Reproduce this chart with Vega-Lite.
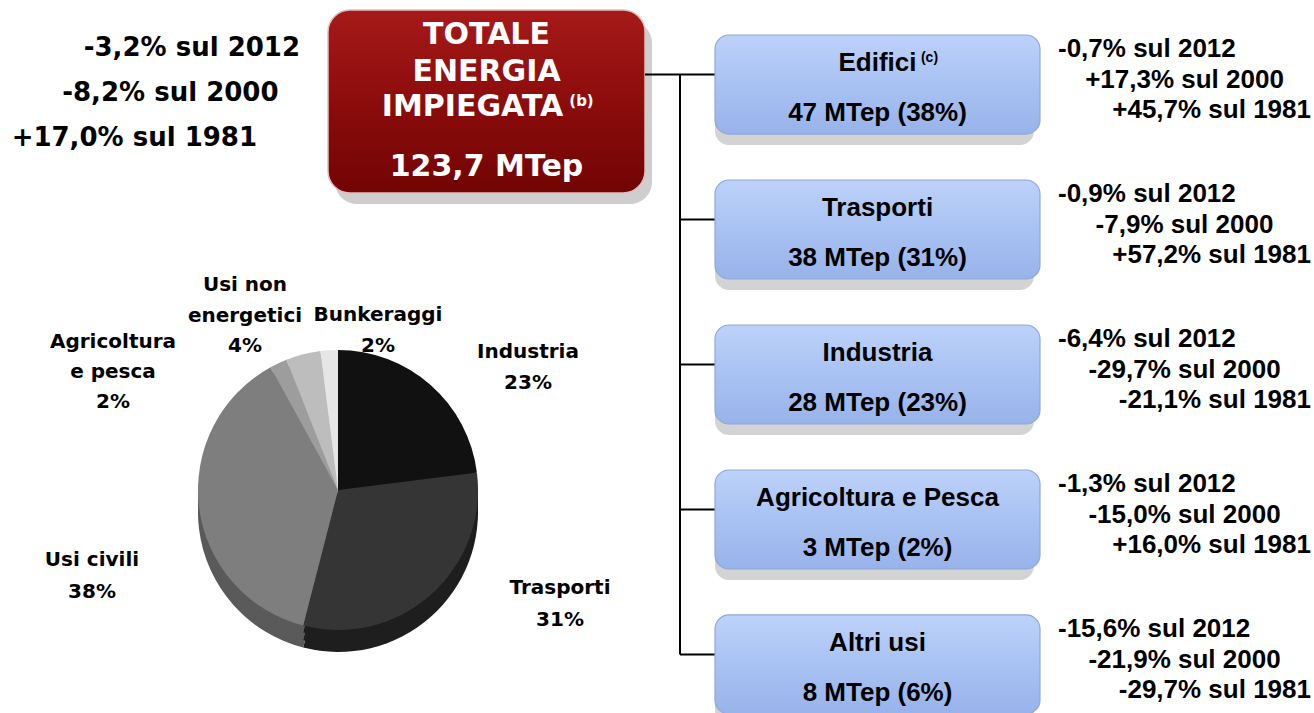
{
  "$schema": "https://vega.github.io/schema/vega-lite/v6.json",
  "padding": 0,
  "background": "white",
  "spacing": 0,
  "bounds": "flush",
  "config": {"view": {"stroke": null}, "concat": {"spacing": 0}},
  "datasets": {
    "totale_var": [
      {"anno": "2012", "variazione": -3.2, "etichetta": "-3,2% sul 2012"},
      {"anno": "2000", "variazione": -8.2, "etichetta": "-8,2% sul 2000"},
      {"anno": "1981", "variazione": 17.0, "etichetta": "+17,0% sul 1981"}
    ],
    "totale": [
      {"blocco": "TOTALE ENERGIA IMPIEGATA", "riga1": "TOTALE", "riga2": "ENERGIA", "riga3": "IMPIEGATA", "nota": "(b)", "mtep": 123.7, "valore": "123,7 MTep"}
    ],
    "torta": [
      {"settore": "Industria", "pct": 23, "ordine": 1, "etichetta": "Industria\n23%"},
      {"settore": "Trasporti", "pct": 31, "ordine": 2, "etichetta": "Trasporti\n31%"},
      {"settore": "Usi civili", "pct": 38, "ordine": 3, "etichetta": "Usi civili\n38%"},
      {"settore": "Agricoltura e pesca", "pct": 2, "ordine": 4, "etichetta": "Agricoltura\ne pesca\n2%"},
      {"settore": "Usi non energetici", "pct": 4, "ordine": 5, "etichetta": "Usi non\nenergetici\n4%"},
      {"settore": "Bunkeraggi", "pct": 2, "ordine": 6, "etichetta": "Bunkeraggi\n2%"}
    ],
    "settori": [
      {"settore": "Edifici", "nota": "(c)", "mtep": 47, "quota": 38, "valore": "47 MTep (38%)"},
      {"settore": "Trasporti", "nota": null, "mtep": 38, "quota": 31, "valore": "38 MTep (31%)"},
      {"settore": "Industria", "nota": null, "mtep": 28, "quota": 23, "valore": "28 MTep (23%)"},
      {"settore": "Agricoltura e Pesca", "nota": null, "mtep": 3, "quota": 2, "valore": "3 MTep (2%)"},
      {"settore": "Altri usi", "nota": null, "mtep": 8, "quota": 6, "valore": "8 MTep (6%)"}
    ],
    "variazioni": [
      {"settore": "Edifici", "anno": "2012", "variazione": -0.7, "etichetta": "-0,7% sul 2012"},
      {"settore": "Edifici", "anno": "2000", "variazione": 17.3, "etichetta": "+17,3% sul 2000"},
      {"settore": "Edifici", "anno": "1981", "variazione": 45.7, "etichetta": "+45,7% sul 1981"},
      {"settore": "Trasporti", "anno": "2012", "variazione": -0.9, "etichetta": "-0,9% sul 2012"},
      {"settore": "Trasporti", "anno": "2000", "variazione": -7.9, "etichetta": "-7,9% sul 2000"},
      {"settore": "Trasporti", "anno": "1981", "variazione": 57.2, "etichetta": "+57,2% sul 1981"},
      {"settore": "Industria", "anno": "2012", "variazione": -6.4, "etichetta": "-6,4% sul 2012"},
      {"settore": "Industria", "anno": "2000", "variazione": -29.7, "etichetta": "-29,7% sul 2000"},
      {"settore": "Industria", "anno": "1981", "variazione": -21.1, "etichetta": "-21,1% sul 1981"},
      {"settore": "Agricoltura e Pesca", "anno": "2012", "variazione": -1.3, "etichetta": "-1,3% sul 2012"},
      {"settore": "Agricoltura e Pesca", "anno": "2000", "variazione": -15.0, "etichetta": "-15,0% sul 2000"},
      {"settore": "Agricoltura e Pesca", "anno": "1981", "variazione": 16.0, "etichetta": "+16,0% sul 1981"},
      {"settore": "Altri usi", "anno": "2012", "variazione": -15.6, "etichetta": "-15,6% sul 2012"},
      {"settore": "Altri usi", "anno": "2000", "variazione": -21.9, "etichetta": "-21,9% sul 2000"},
      {"settore": "Altri usi", "anno": "1981", "variazione": -29.7, "etichetta": "-29,7% sul 1981"}
    ]
  },
  "hconcat": [
    {
      "width": 645,
      "height": 713,
      "resolve": {"scale": {"x": "independent", "y": "independent"}},
      "layer": [
        {
          "data": {"name": "torta"},
          "encoding": {
            "theta": {"field": "pct", "type": "quantitative", "stack": true},
            "order": {"field": "ordine", "type": "quantitative"}
          },
          "layer": [
            {"mark": {"type": "arc", "outerRadius": 140, "xOffset": 15.5, "yOffset": 155.5}, "encoding": {"fill": {"field": "settore", "type": "nominal", "scale": {"domain": ["Industria", "Trasporti", "Usi civili", "Agricoltura e pesca", "Usi non energetici", "Bunkeraggi"], "range": ["#050505", "#1e1e1e", "#5a5a5a", "#787878", "#979797", "#c2c2c2"]}, "legend": null}}},
            {"mark": {"type": "arc", "outerRadius": 140, "xOffset": 15.5, "yOffset": 148}, "encoding": {"fill": {"field": "settore", "type": "nominal", "legend": null}}},
            {"mark": {"type": "arc", "outerRadius": 140, "xOffset": 15.5, "yOffset": 140.5}, "encoding": {"fill": {"field": "settore", "type": "nominal", "legend": null}}},
            {"mark": {"type": "arc", "outerRadius": 140, "xOffset": 15.5, "yOffset": 133.5}, "encoding": {"color": {"field": "settore", "type": "nominal", "scale": {"domain": ["Industria", "Trasporti", "Usi civili", "Agricoltura e pesca", "Usi non energetici", "Bunkeraggi"], "range": ["#111111", "#353535", "#7e7e7e", "#9d9d9d", "#bdbdbd", "#e6e6e6"]}, "legend": null}}}
          ]
        },
        {"data": {"name": "torta"}, "transform": [{"filter": "datum.settore === 'Industria'"}], "mark": {"type": "text", "lineBreak": "\n", "lineHeight": 31, "align": "center", "baseline": "middle", "font": "DejaVu Sans", "fontWeight": "bold", "fontSize": 20, "dx": 205.5, "dy": -4.5}, "encoding": {"text": {"field": "etichetta"}}},
        {"data": {"name": "torta"}, "transform": [{"filter": "datum.settore === 'Trasporti'"}], "mark": {"type": "text", "lineBreak": "\n", "lineHeight": 32, "align": "center", "baseline": "middle", "font": "DejaVu Sans", "fontWeight": "bold", "fontSize": 20, "dx": 237.5, "dy": 231.5}, "encoding": {"text": {"field": "etichetta"}}},
        {"data": {"name": "torta"}, "transform": [{"filter": "datum.settore === 'Usi civili'"}], "mark": {"type": "text", "lineBreak": "\n", "lineHeight": 32, "align": "center", "baseline": "middle", "font": "DejaVu Sans", "fontWeight": "bold", "fontSize": 20, "dx": -230.5, "dy": 203.5}, "encoding": {"text": {"field": "etichetta"}}},
        {"data": {"name": "torta"}, "transform": [{"filter": "datum.settore === 'Agricoltura e pesca'"}], "mark": {"type": "text", "lineBreak": "\n", "lineHeight": 30, "align": "center", "baseline": "middle", "font": "DejaVu Sans", "fontWeight": "bold", "fontSize": 20, "dx": -209.5, "dy": -14.5}, "encoding": {"text": {"field": "etichetta"}}},
        {"data": {"name": "torta"}, "transform": [{"filter": "datum.settore === 'Usi non energetici'"}], "mark": {"type": "text", "lineBreak": "\n", "lineHeight": 30.5, "align": "center", "baseline": "middle", "font": "DejaVu Sans", "fontWeight": "bold", "fontSize": 20, "dx": -77.5, "dy": -71.5}, "encoding": {"text": {"field": "etichetta"}}},
        {"data": {"name": "torta"}, "transform": [{"filter": "datum.settore === 'Bunkeraggi'"}], "mark": {"type": "text", "lineBreak": "\n", "lineHeight": 31, "align": "center", "baseline": "middle", "font": "DejaVu Sans", "fontWeight": "bold", "fontSize": 20, "dx": 55.5, "dy": -41.5}, "encoding": {"text": {"field": "etichetta"}}},
        {
          "data": {"name": "totale_var"},
          "mark": {"type": "text", "align": "right", "baseline": "middle", "font": "DejaVu Sans", "fontWeight": "bold", "fontSize": 26, "color": "#000000"},
          "encoding": {
            "x": {"field": "anno", "type": "nominal", "scale": {"type": "point", "domain": ["1981", "2000", "2012"], "range": [257, 300], "padding": 0}, "axis": null},
            "y": {"field": "anno", "type": "nominal", "scale": {"type": "point", "domain": ["2012", "2000", "1981"], "range": [48, 138], "padding": 0}, "axis": null},
            "text": {"field": "etichetta"}
          }
        },
        {
          "data": {"name": "totale"},
          "encoding": {
            "x": {"field": "blocco", "type": "nominal", "scale": {"type": "band", "domain": ["TOTALE ENERGIA IMPIEGATA"], "range": [328, 645], "paddingInner": 0, "paddingOuter": 0}, "axis": null},
            "y": {"field": "blocco", "type": "nominal", "scale": {"type": "band", "domain": ["TOTALE ENERGIA IMPIEGATA"], "range": [10, 193], "paddingInner": 0, "paddingOuter": 0}, "axis": null}
          },
          "layer": [
            {"mark": {"type": "rect", "color": "#bdbdbd", "opacity": 0.75, "cornerRadius": 22, "xOffset": 7, "yOffset": 11}},
            {"mark": {"type": "rect", "cornerRadius": 22, "stroke": "#e2bcbc", "strokeWidth": 1.5, "fill": {"gradient": "linear", "x1": 0, "y1": 0, "x2": 0, "y2": 1, "stops": [{"offset": 0, "color": "#a61919"}, {"offset": 0.55, "color": "#8a0b0b"}, {"offset": 1, "color": "#720404"}]}}},
            {"mark": {"type": "text", "color": "#ffffff", "font": "DejaVu Sans", "fontWeight": "bold", "fontSize": 30, "baseline": "middle", "dy": -66.5}, "encoding": {"text": {"field": "riga1"}}},
            {"mark": {"type": "text", "color": "#ffffff", "font": "DejaVu Sans", "fontWeight": "bold", "fontSize": 30, "baseline": "middle", "dy": -29.5}, "encoding": {"text": {"field": "riga2"}}},
            {"mark": {"type": "text", "color": "#ffffff", "font": "DejaVu Sans", "fontWeight": "bold", "fontSize": 30, "baseline": "middle", "dy": 5.5, "dx": -14}, "encoding": {"text": {"field": "riga3"}}},
            {"mark": {"type": "text", "color": "#ffffff", "font": "DejaVu Sans", "fontWeight": "bold", "fontSize": 15, "baseline": "middle", "dy": -1, "dx": 95}, "encoding": {"text": {"field": "nota"}}},
            {"mark": {"type": "text", "color": "#ffffff", "font": "DejaVu Sans", "fontWeight": "bold", "fontSize": 30, "baseline": "middle", "dy": 65.5}, "encoding": {"text": {"field": "valore"}}}
          ]
        }
      ]
    },
    {
      "width": 70,
      "height": 713,
      "data": {"name": "settori"},
      "layer": [
        {
          "mark": {"type": "rule", "color": "#000000", "strokeWidth": 2},
          "encoding": {
            "y": {"field": "settore", "type": "nominal", "bandPosition": 0.4, "scale": {"type": "band", "domain": ["Edifici", "Trasporti", "Industria", "Agricoltura e Pesca", "Altri usi"], "range": [35, 714], "paddingInner": 0.317, "paddingOuter": 0}, "axis": null},
            "x": {"datum": 0.5, "type": "quantitative", "scale": {"domain": [0, 1], "nice": false, "zero": false}, "axis": null},
            "x2": {"datum": 1}
          }
        },
        {
          "transform": [{"filter": "datum.settore === 'Edifici'"}],
          "mark": {"type": "rule", "color": "#000000", "strokeWidth": 2},
          "encoding": {
            "y": {"field": "settore", "type": "nominal", "bandPosition": 0.4, "axis": null},
            "x": {"datum": 0, "type": "quantitative", "axis": null},
            "x2": {"datum": 0.5}
          }
        },
        {
          "transform": [{"filter": "datum.settore === 'Edifici'"}],
          "mark": {"type": "rule", "color": "#000000", "strokeWidth": 2},
          "encoding": {
            "x": {"datum": 0.5, "type": "quantitative", "axis": null},
            "y": {"datum": "Edifici", "type": "nominal", "bandPosition": 0.4, "axis": null},
            "y2": {"datum": "Altri usi", "bandPosition": 0.4}
          }
        }
      ]
    },
    {
      "width": 325,
      "height": 713,
      "data": {"name": "settori"},
      "encoding": {
        "y": {"field": "settore", "type": "nominal", "scale": {"type": "band", "domain": ["Edifici", "Trasporti", "Industria", "Agricoltura e Pesca", "Altri usi"], "range": [35, 714], "paddingInner": 0.317, "paddingOuter": 0}, "axis": null}
      },
      "layer": [
        {"mark": {"type": "rect", "color": "#c0c0c0", "opacity": 0.7, "cornerRadius": 14, "xOffset": -6, "yOffset": 11}},
        {"mark": {"type": "rect", "cornerRadius": 14, "stroke": "#8fa8d6", "strokeWidth": 1.2, "fill": {"gradient": "linear", "x1": 0, "y1": 0, "x2": 0, "y2": 1, "stops": [{"offset": 0, "color": "#bdd2fa"}, {"offset": 0.5, "color": "#a9c2f3"}, {"offset": 1, "color": "#98b3ea"}]}}},
        {"mark": {"type": "text", "font": "Liberation Sans", "fontWeight": "bold", "fontSize": 26, "baseline": "middle", "color": "#000000", "dy": -21.5}, "encoding": {"text": {"field": "settore"}}},
        {"mark": {"type": "text", "font": "Liberation Sans", "fontWeight": "bold", "fontSize": 26, "baseline": "middle", "color": "#000000", "dy": 28.5}, "encoding": {"text": {"field": "valore"}}},
        {"transform": [{"filter": "isValid(datum.nota)"}], "mark": {"type": "text", "font": "Liberation Sans", "fontWeight": "bold", "fontSize": 14, "baseline": "middle", "color": "#000000", "dx": 52, "dy": -27}, "encoding": {"text": {"field": "nota"}}}
      ]
    },
    {
      "width": 274,
      "height": 713,
      "data": {"name": "variazioni"},
      "encoding": {
        "y": {"field": "settore", "type": "nominal", "bandPosition": 0, "scale": {"type": "band", "domain": ["Edifici", "Trasporti", "Industria", "Agricoltura e Pesca", "Altri usi"], "range": [35, 714], "paddingInner": 0.317, "paddingOuter": 0}, "axis": null},
        "x": {"field": "anno", "type": "nominal", "scale": {"type": "point", "domain": ["2012", "2000", "1981"], "range": [18, 271], "padding": 0}, "axis": null},
        "text": {"field": "etichetta"}
      },
      "layer": [
        {"transform": [{"filter": "datum.anno === '2012'"}], "mark": {"type": "text", "align": "left", "baseline": "middle", "font": "Liberation Sans", "fontWeight": "bold", "fontSize": 26, "color": "#000000", "dy": 14}},
        {"transform": [{"filter": "datum.anno === '2000'"}], "mark": {"type": "text", "align": "center", "baseline": "middle", "font": "Liberation Sans", "fontWeight": "bold", "fontSize": 26, "color": "#000000", "dy": 45}},
        {"transform": [{"filter": "datum.anno === '1981'"}], "mark": {"type": "text", "align": "right", "baseline": "middle", "font": "Liberation Sans", "fontWeight": "bold", "fontSize": 26, "color": "#000000", "dy": 75}}
      ]
    }
  ]
}
